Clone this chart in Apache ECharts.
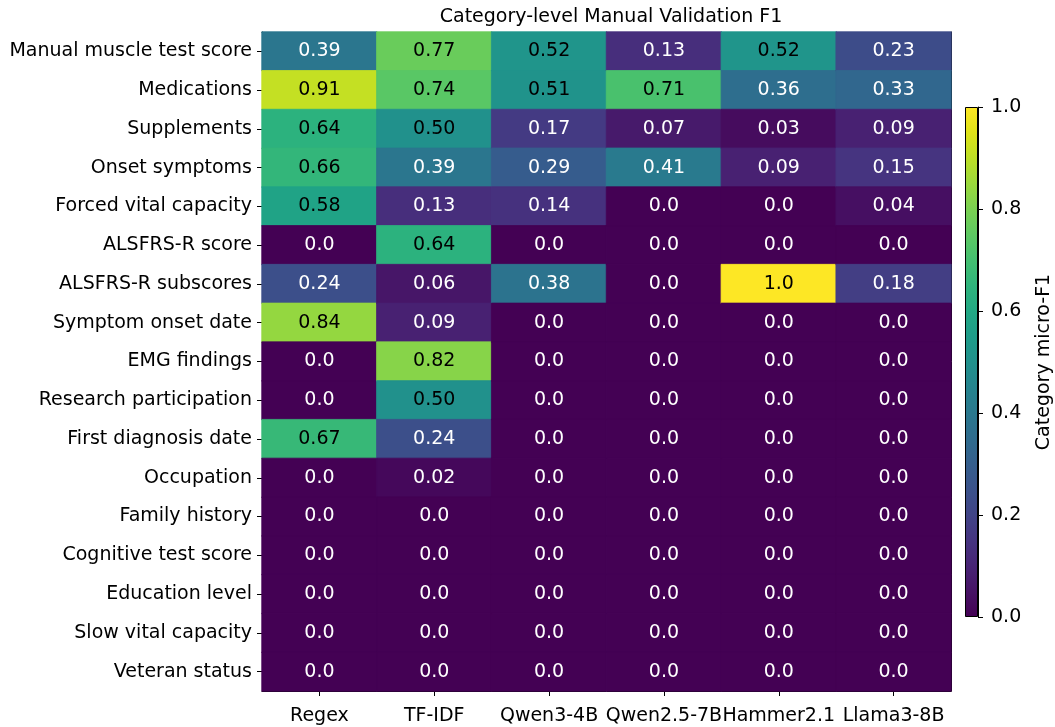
<!DOCTYPE html>
<html>
<head>
<meta charset="utf-8">
<script src="https://cdn.jsdelivr.net/npm/echarts@6/dist/echarts.min.js"></script>
<style>
html,body{margin:0;padding:0;background:#fff;}
#chart{width:1055px;height:727px;}
</style>
</head>
<body>
<div id="chart"></div>
<script>
const methods = ['Regex', 'TF-IDF', 'Qwen3-4B', 'Qwen2.5-7B', 'Hammer2.1', 'Llama3-8B'];
const categories = [
  'Manual muscle test score', 'Medications', 'Supplements', 'Onset symptoms',
  'Forced vital capacity', 'ALSFRS-R score', 'ALSFRS-R subscores', 'Symptom onset date',
  'EMG findings', 'Research participation', 'First diagnosis date', 'Occupation',
  'Family history', 'Cognitive test score', 'Education level', 'Slow vital capacity', 'Veteran status'
];
const f1Regex   = [0.39, 0.91, 0.64, 0.66, 0.58, 0.0, 0.24, 0.84, 0.0, 0.0, 0.67, 0.0, 0.0, 0.0, 0.0, 0.0, 0.0];
const f1TfIdf   = [0.77, 0.74, 0.50, 0.39, 0.13, 0.64, 0.06, 0.09, 0.82, 0.50, 0.24, 0.02, 0.0, 0.0, 0.0, 0.0, 0.0];
const f1Qwen3   = [0.52, 0.51, 0.17, 0.29, 0.14, 0.0, 0.38, 0.0, 0.0, 0.0, 0.0, 0.0, 0.0, 0.0, 0.0, 0.0, 0.0];
const f1Qwen25  = [0.13, 0.71, 0.07, 0.41, 0.0, 0.0, 0.0, 0.0, 0.0, 0.0, 0.0, 0.0, 0.0, 0.0, 0.0, 0.0, 0.0];
const f1Hammer  = [0.52, 0.36, 0.03, 0.09, 0.0, 0.0, 1.0, 0.0, 0.0, 0.0, 0.0, 0.0, 0.0, 0.0, 0.0, 0.0, 0.0];
const f1Llama   = [0.23, 0.33, 0.09, 0.15, 0.04, 0.0, 0.18, 0.0, 0.0, 0.0, 0.0, 0.0, 0.0, 0.0, 0.0, 0.0, 0.0];
const colorbarTicks = [0, 0.2, 0.4, 0.6, 0.8, 1.0];

const viridis = ['#440154','#471365','#482475','#463480','#414487','#3b528b','#355f8d','#2f6c8e','#2a788e','#25848e','#21918c','#1e9c89','#22a884','#2fb47c','#44bf70','#5ec962','#7ad151','#9bd93c','#bddf26','#dfe318','#fde725'];

function viridisAt(t) {
  t = Math.max(0, Math.min(1, t));
  const n = viridis.length - 1;
  const i = Math.min(n - 1, Math.floor(t * n));
  const f = t * n - i;
  const a = parseInt(viridis[i].slice(1), 16), b = parseInt(viridis[i + 1].slice(1), 16);
  const ch = s => Math.round(((a >> s) & 255) * (1 - f) + ((b >> s) & 255) * f);
  return 'rgb(' + ch(16) + ',' + ch(8) + ',' + ch(0) + ')';
}

const cols = [f1Regex, f1TfIdf, f1Qwen3, f1Qwen25, f1Hammer, f1Llama];
const data = [];
cols.forEach((arr, x) => arr.forEach((v, y) => data.push({
  value: [x, y, v],
  label: { color: v >= 0.5 ? '#000' : '#fff' },
  itemStyle: { borderColor: viridisAt(v), borderWidth: 0.8 }
})));

function fmt(v) {
  if (v === 0) return '0.0';
  if (v === 1) return '1.0';
  return v.toFixed(2);
}

const FONT = 'DejaVu Sans';
const FS = 19;

const gradStops = viridis.map((c, i) => ({ offset: 1 - i / (viridis.length - 1), color: c }));

const chart = echarts.init(document.getElementById('chart'), null, { renderer: 'canvas' });
chart.setOption({
  animation: false,
  backgroundColor: '#fff',
  textStyle: { fontFamily: FONT },
  title: {
    text: 'Category-level Manual Validation F1',
    left: 606, top: 3, textAlign: 'center',
    textStyle: { fontFamily: FONT, fontSize: FS, fontWeight: 'normal', color: '#000' }
  },
  grid: [
    { left: 262, top: 32, width: 689, height: 659 },
    { left: 965, top: 107, width: 26, height: 510 }
  ],
  xAxis: [
    {
      gridIndex: 0, type: 'category', data: methods, position: 'bottom',
      axisLine: { show: true, lineStyle: { color: '#000', width: 1 } },
      axisTick: { show: true, alignWithLabel: true, length: 5, lineStyle: { color: '#000' } },
      axisLabel: { color: '#000', fontSize: FS, fontFamily: FONT, margin: 16, interval: 0 },
      splitLine: { show: false }
    },
    {
      gridIndex: 0, type: 'value', position: 'top', min: 0, max: 1,
      axisLine: { show: true, onZero: false, lineStyle: { color: '#000', width: 1 } },
      axisTick: { show: false }, axisLabel: { show: false }, splitLine: { show: false }
    },
    {
      gridIndex: 1, type: 'category', data: ['cb'], show: false
    }
  ],
  yAxis: [
    {
      gridIndex: 0, type: 'category', data: categories, inverse: true,
      axisLine: { show: true, lineStyle: { color: '#000', width: 1 } },
      axisTick: { show: true, alignWithLabel: true, length: 5, lineStyle: { color: '#000' } },
      axisLabel: { color: '#000', fontSize: FS, fontFamily: FONT, margin: 10, interval: 0 },
      splitLine: { show: false }
    },
    {
      gridIndex: 0, type: 'value', position: 'right', min: 0, max: 1,
      axisLine: { show: true, onZero: false, lineStyle: { color: '#000', width: 1 } },
      axisTick: { show: false }, axisLabel: { show: false }, splitLine: { show: false }
    },
    {
      gridIndex: 1, type: 'value', position: 'right', min: 0, max: 1, interval: 0.2,
      name: 'Category micro-F1', nameLocation: 'middle', nameRotate: 90, nameGap: 57,
      nameTextStyle: { color: '#000', fontSize: FS, fontFamily: FONT },
      axisLine: { show: true, lineStyle: { color: '#000', width: 1 } },
      axisTick: { show: true, length: 5, lineStyle: { color: '#000' } },
      axisLabel: { color: '#000', fontSize: FS, fontFamily: FONT, margin: 13,
        formatter: v => colorbarTicks.some(t => Math.abs(t - v) < 1e-9) ? v.toFixed(1) : '' },
      splitLine: { show: false }
    }
  ],
  visualMap: {
    show: false, type: 'continuous', min: 0, max: 1, seriesIndex: 0, dimension: 2,
    inRange: { color: viridis }
  },
  series: [
    {
      type: 'heatmap', xAxisIndex: 0, yAxisIndex: 0, data: data,
      label: {
        show: true, fontSize: FS, fontFamily: FONT,
        formatter: p => fmt(p.value[2])
      },
      emphasis: { disabled: true }
    },
    {
      type: 'bar', xAxisIndex: 2, yAxisIndex: 2, data: [1], barWidth: '100%',
      itemStyle: {
        color: new echarts.graphic.LinearGradient(0, 0, 0, 1, gradStops),
        borderColor: '#000', borderWidth: 1
      },
      silent: true
    }
  ]
});
</script>
</body>
</html>
